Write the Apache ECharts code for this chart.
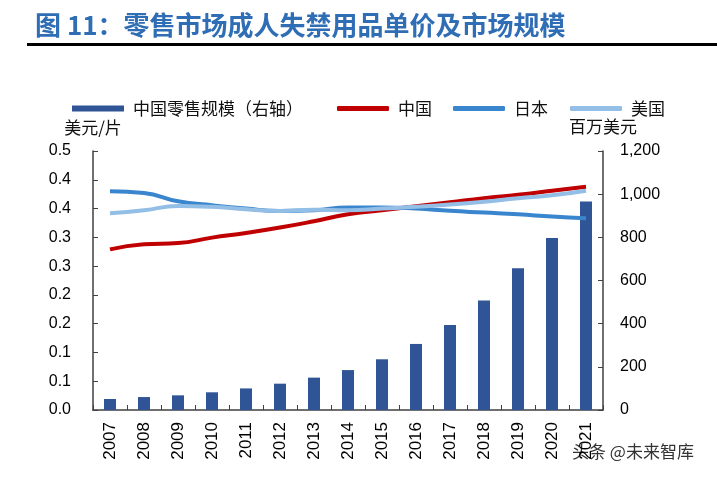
<!DOCTYPE html>
<html>
<head>
<meta charset="utf-8">
<script src="https://cdn.jsdelivr.net/npm/echarts@6/dist/echarts.min.js"></script>
<style>html,body{margin:0;padding:0;background:#fff;}#c{width:717px;height:477px;}</style>
</head>
<body>
<div id="c"></div>
<script>
const years = ['2007','2008','2009','2010','2011','2012','2013','2014','2015','2016','2017','2018','2019','2020','2021'];
const retailSize = [51, 60, 68, 82, 100, 122, 150, 185, 235, 306, 394, 507, 657, 797, 966];
const chinaPrice = [0.279, 0.288, 0.290, 0.2995, 0.3075, 0.317, 0.328, 0.340, 0.347, 0.354, 0.361, 0.368, 0.374, 0.381, 0.388];
const japanPrice = [0.380, 0.377, 0.3626, 0.3557, 0.350, 0.3457, 0.347, 0.352, 0.352, 0.350, 0.346, 0.343, 0.340, 0.336, 0.333];
const usPrice = [0.3418, 0.347, 0.3546, 0.353, 0.3487, 0.3457, 0.348, 0.347, 0.350, 0.353, 0.357, 0.362, 0.368, 0.373, 0.381];
const leftTickLabels = ['0.0','0.1','0.1','0.2','0.2','0.3','0.3','0.4','0.4','0.5'];
const rightTickLabels = ['0','200','400','600','800','1,000','1,200'];
const seriesNames = ['中国零售规模（右轴）','中国','日本','美国'];

const cjk = '"Noto Sans CJK SC", sans-serif';
const num = '"Liberation Sans", Arial, sans-serif';
const axisColor = '#404040';

const chart = echarts.init(document.getElementById('c'), null, {renderer: 'canvas'});
function legendAt(name, left, icon, h) {
  return {
    data: [{name: name, icon: icon}],
    left: left, top: 95,
    itemWidth: 52, itemHeight: h,
    textStyle: {fontFamily: cjk, fontSize: 17, color: '#111', padding: [0,0,0,4]},
    selectedMode: false
  };
}
chart.setOption({
  animation: false,
  title: {
    text: '图 11：零售市场成人失禁用品单价及市场规模',
    left: 30, top: 7,
    textStyle: {fontFamily: cjk, fontSize: 26, fontWeight: 'bold', color: '#2F6DB5'}
  },
  graphic: [
    {type: 'rect', shape: {x: 27, y: 43, width: 690, height: 3}, style: {fill: '#000'}},
    {type: 'text', left: 572, top: 443, style: {text: '头条 @未来智库', font: '17px "Noto Sans CJK SC"', fill: '#333'}}
  ],
  legend: [
    legendAt(seriesNames[0], 67, 'rect', 6),
    legendAt(seriesNames[1], 332, 'roundRect', 5),
    legendAt(seriesNames[2], 448, 'roundRect', 5),
    legendAt(seriesNames[3], 565, 'roundRect', 5)
  ],
  grid: {left: 93, right: 114, top: 151, bottom: 67, containLabel: false},
  xAxis: {
    type: 'category', data: years, boundaryGap: true,
    axisLine: {show: true, lineStyle: {color: axisColor, width: 1.5}},
    axisTick: {show: true, inside: true, length: 5, lineStyle: {color: axisColor}},
    axisLabel: {rotate: 90, fontFamily: num, fontSize: 17, color: '#000', margin: 12, interval: 0}
  },
  yAxis: [
    {
      type: 'value', min: 0, max: 0.45, interval: 0.05, position: 'left',
      name: '美元/片', nameLocation: 'end', nameGap: 23,
      nameTextStyle: {fontFamily: cjk, fontSize: 17, color: '#111', verticalAlign: 'middle', align: 'center'},
      axisLine: {show: true, lineStyle: {color: axisColor, width: 1.5}},
      axisTick: {show: true, inside: true, length: 5, lineStyle: {color: axisColor}},
      splitLine: {show: false},
      axisLabel: {fontFamily: num, fontSize: 16, color: '#000', margin: 22,
        formatter: function (v, i) { return leftTickLabels[i]; }}
    },
    {
      type: 'value', min: 0, max: 1200, interval: 200, position: 'right',
      name: '百万美元', nameLocation: 'end', nameGap: 24,
      nameTextStyle: {fontFamily: cjk, fontSize: 17, color: '#111', verticalAlign: 'middle', align: 'center'},
      axisLine: {show: true, lineStyle: {color: axisColor, width: 1.5}},
      axisTick: {show: true, inside: true, length: 5, lineStyle: {color: axisColor}},
      splitLine: {show: false},
      axisLabel: {fontFamily: num, fontSize: 16, color: '#000', margin: 17,
        formatter: function (v, i) { return rightTickLabels[i]; }}
    }
  ],
  series: [
    {name: seriesNames[0], type: 'bar', yAxisIndex: 1, data: retailSize, barWidth: 12,
     itemStyle: {color: '#2F5597'}},
    {name: seriesNames[1], type: 'line', yAxisIndex: 0, data: chinaPrice, smooth: true, symbol: 'none',
     lineStyle: {color: '#C00000', width: 4}, itemStyle: {color: '#C00000'}},
    {name: seriesNames[2], type: 'line', yAxisIndex: 0, data: japanPrice, smooth: true, symbol: 'none',
     lineStyle: {color: '#3A86CE', width: 4}, itemStyle: {color: '#3A86CE'}},
    {name: seriesNames[3], type: 'line', yAxisIndex: 0, data: usPrice, smooth: true, symbol: 'none',
     lineStyle: {color: '#93BEE6', width: 4}, itemStyle: {color: '#93BEE6'}}
  ]
});
</script>
</body>
</html>
